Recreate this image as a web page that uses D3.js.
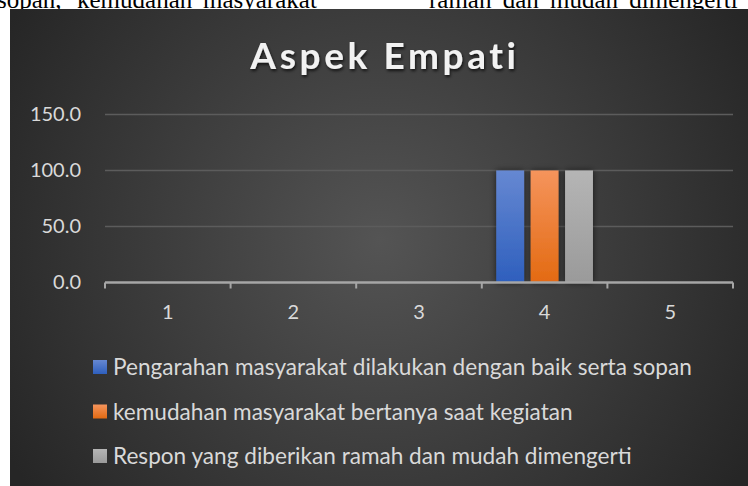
<!DOCTYPE html>
<html>
<head>
<meta charset="utf-8">
<script src="https://cdn.jsdelivr.net/npm/d3@7"></script>
<style>
  body { margin: 0; background: #fff; }
  svg { display: block; }
</style>
</head>
<body>
<script>
var w = 748;
var h = 486;

// data
var categories = ["1", "2", "3", "4", "5"];
var seriesNames = [
  "Pengarahan masyarakat dilakukan dengan baik serta sopan",
  "kemudahan masyarakat bertanya saat kegiatan",
  "Respon yang diberikan ramah dan mudah dimengerti"
];
var series1 = [0, 0, 0, 100, 0];
var series2 = [0, 0, 0, 100, 0];
var series3 = [0, 0, 0, 100, 0];
var yTicks = [0, 50, 100, 150];

var seriesValues = [series1, series2, series3];
var colorsTop = ["#6688d2", "#f5945c", "#b5b5b5"];
var colorsBottom = ["#2e5fbd", "#e36a12", "#9a9a9a"];

var svg = d3.select("body")
            .append("svg")
            .attr("width", w)
            .attr("height", h);

// the cut off document line above the chart
var docWords = [
  {t: "sopan,", x: -3},
  {t: "kemudahan", x: 77},
  {t: "masyarakat", x: 203},
  {t: "ramah dan mudah dimengerti", x: 429}
];
svg.selectAll("text.doc")
   .data(docWords)
   .enter()
   .append("text")
   .attr("class", "doc")
   .attr("x", function(d) { return d.x; })
   .attr("y", 8)
   .style("font-family", "'Liberation Serif', 'Times New Roman', serif")
   .style("font-size", "25px")
   .style("word-spacing", "5px")
   .style("fill", "#000")
   .text(function(d) { return d.t; });

var defs = svg.append("defs");

var bg = defs.append("radialGradient")
             .attr("id", "bg")
             .attr("gradientUnits", "userSpaceOnUse")
             .attr("cx", 380).attr("cy", 240).attr("r", 430);
bg.append("stop").attr("offset", "0").attr("stop-color", "#545454");
bg.append("stop").attr("offset", "1").attr("stop-color", "#262626");

seriesValues.forEach(function(s, i) {
  var g = defs.append("linearGradient")
              .attr("id", "bar" + i)
              .attr("x1", 0).attr("y1", 0).attr("x2", 0).attr("y2", 1);
  g.append("stop").attr("offset", "0").attr("stop-color", colorsTop[i]);
  g.append("stop").attr("offset", "1").attr("stop-color", colorsBottom[i]);
});

var shadow = defs.append("filter")
                 .attr("id", "shadow")
                 .attr("x", "-30%").attr("y", "-30%")
                 .attr("width", "160%").attr("height", "160%");
shadow.append("feDropShadow")
      .attr("dx", 0).attr("dy", 0)
      .attr("stdDeviation", 3)
      .attr("flood-color", "#000")
      .attr("flood-opacity", 0.6);

var tshadow = defs.append("filter").attr("id", "tshadow");
tshadow.append("feDropShadow")
       .attr("dx", 1).attr("dy", 2)
       .attr("stdDeviation", 1.5)
       .attr("flood-color", "#000")
       .attr("flood-opacity", 0.7);

// chart area background
svg.append("rect")
   .attr("x", 10)
   .attr("y", 9)
   .attr("width", w - 10)
   .attr("height", h - 9)
   .attr("fill", "url(#bg)");

// title
svg.append("text")
   .attr("x", 385)
   .attr("y", 69)
   .attr("text-anchor", "middle")
   .attr("filter", "url(#tshadow)")
   .style("font-family", "Lato, 'Noto Sans', sans-serif")
   .style("font-weight", "bold")
   .style("font-size", "37px")
   .style("letter-spacing", "3.6px")
   .style("fill", "#f2f2f2")
   .text("Aspek Empati");

// scales
var x0 = d3.scaleBand()
           .domain(categories)
           .range([105, 733])
           .paddingInner(0)
           .paddingOuter(0);

var x1 = d3.scaleBand()
           .domain(d3.range(seriesValues.length))
           .range([0, x0.bandwidth()])
           .paddingInner(0.19)
           .paddingOuter(0.42);

var y = d3.scaleLinear()
          .domain([0, 150])
          .range([282.5, 114.5]);

// gridlines
svg.selectAll("line.grid")
   .data(yTicks.filter(function(d) { return d > 0; }))
   .enter()
   .append("line")
   .attr("class", "grid")
   .attr("x1", 105)
   .attr("x2", 733)
   .attr("y1", function(d) { return y(d); })
   .attr("y2", function(d) { return y(d); })
   .style("stroke", "#5c5c5c")
   .style("stroke-width", 1.3);

// y labels
var yAxis = svg.append("g")
   .attr("transform", "translate(93,0)")
   .call(d3.axisLeft(y).tickValues(yTicks).tickFormat(d3.format(".1f")).tickSize(0).tickPadding(12));
yAxis.select(".domain").remove();
yAxis.selectAll("text")
     .style("font-family", "Lato, 'Noto Sans', sans-serif")
     .style("font-size", "20px")
     .style("fill", "#d9d9d9");

// bars
var rows = [];
categories.forEach(function(c, ci) {
  seriesValues.forEach(function(s, si) {
    rows.push({cat: c, s: si, v: s[ci]});
  });
});

svg.selectAll("rect.bar")
   .data(rows.filter(function(d) { return d.v > 0; }))
   .enter()
   .append("rect")
   .attr("class", "bar")
   .attr("x", function(d) { return x0(d.cat) + x1(d.s); })
   .attr("y", function(d) { return y(d.v); })
   .attr("width", x1.bandwidth())
   .attr("height", function(d) { return y(0) - y(d.v); })
   .attr("fill", function(d) { return "url(#bar" + d.s + ")"; })
   .attr("filter", "url(#shadow)");

// x axis
var xAxis = svg.append("g")
   .attr("transform", "translate(0," + y(0) + ")")
   .call(d3.axisBottom(x0).tickSize(0).tickPadding(22));
xAxis.select(".domain")
     .attr("d", "M105,0H733")
     .style("stroke", "#a6a6a6")
     .style("stroke-width", 2.5);
xAxis.selectAll("line.edge")
     .data(categories.concat(["end"]))
     .enter()
     .append("line")
     .attr("class", "edge")
     .attr("x1", function(d, i) { return 105 + i * x0.step(); })
     .attr("x2", function(d, i) { return 105 + i * x0.step(); })
     .attr("y1", 0)
     .attr("y2", 6)
     .style("stroke", "#a6a6a6")
     .style("stroke-width", 2);
xAxis.selectAll(".tick text")
     .style("font-family", "Lato, 'Noto Sans', sans-serif")
     .style("font-size", "20px")
     .style("fill", "#d9d9d9");

// legend
var legend = svg.selectAll("g.legend")
   .data(seriesNames)
   .enter()
   .append("g")
   .attr("class", "legend")
   .attr("transform", function(d, i) { return "translate(93," + (367 + i * 44.5) + ")"; });

legend.append("rect")
      .attr("x", 0)
      .attr("y", -7)
      .attr("width", 14)
      .attr("height", 14)
      .attr("fill", function(d, i) { return "url(#bar" + i + ")"; });

legend.append("text")
      .attr("x", 20)
      .attr("y", 0)
      .attr("dy", "0.36em")
      .style("font-family", "Lato, 'Noto Sans', sans-serif")
      .style("font-size", "22.6px")
      .style("fill", "#d9d9d9")
      .text(function(d) { return d; });
</script>
</body>
</html>
